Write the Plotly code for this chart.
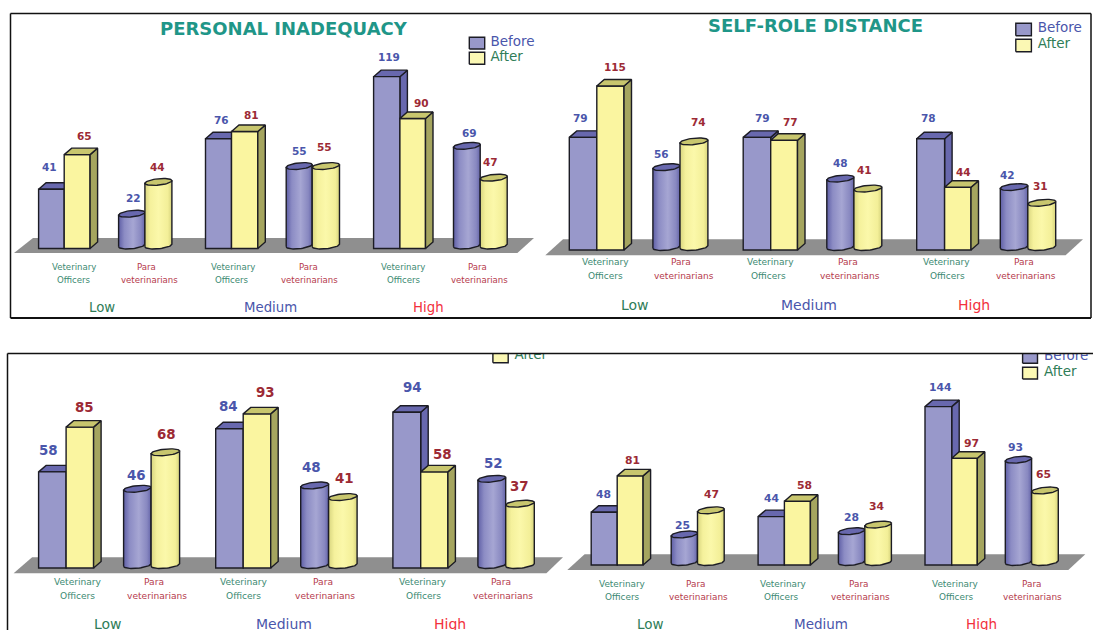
import numpy as np
import plotly.graph_objects as go

# Survey counts, ordered Low / Medium / High, each as Veterinary Officers then Para veterinarians
personal_before = [41, 22, 76, 55, 119, 69]
personal_after = [65, 44, 81, 55, 90, 47]
self_role_before = [79, 56, 79, 48, 78, 42]
self_role_after = [115, 74, 77, 41, 44, 31]
third_before = [58, 46, 84, 48, 94, 52]
third_after = [85, 68, 93, 41, 58, 37]
fourth_before = [48, 25, 44, 28, 144, 93]
fourth_after = [81, 47, 58, 34, 97, 65]

levels = ["Low", "Medium", "High"]
roles = [("Veterinary", "Officers"), ("Para", "veterinarians")]
series_names = ["Before", "After"]

W, H = 1093, 630
BLUE, BLUE_DARK, YELLOW = "#9898ca", "#6868ae", "#faf5a0"
YELLOW_TOP, YELLOW_SIDE = "#c8c66e", "#a5a55f"
INK = "#1c1c24"
BEFORE_TXT, AFTER_TXT = "#4a56ab", "#2f7d58"
VALUE_BLUE, VALUE_RED = "#4a56ab", "#9c2a35"
VET_TXT, PARA_TXT = "#3c8a72", "#b53a4c"
GROUP_TXT = ["#2f7d58", "#4a56ab", "#f2303c"]
FONT = "DejaVu Sans, Verdana, sans-serif"
BLUE_GRAD = [[0, "#5f5fa6"], [0.22, "#8c8cc4"], [0.55, "#a6a6d3"], [0.85, "#8888c0"], [1, "#6464a9"]]
YELLOW_GRAD = [[0, "#d8d57f"], [0.2, "#f5f19c"], [0.5, "#fbf8aa"], [0.85, "#f3ef98"], [1, "#d5d27c"]]
DX, DY = 7.5, 6.5  # oblique depth of the box bars, in pixels
CYL_GAP, CYL_RY, CYL_TILT = 3.0, 3.2, 1.3

# Page-pixel layout of every panel
panels = [
    dict(before=personal_before, after=personal_after, rect=(11, 540, 14, 318), base=248.5, k=1.444,
         edges=[(38.6, 64.2, 90.1), (118.6, 144.9, 171.9), (205.5, 231.5, 257.8),
                (286.2, 312.2, 339.5), (373.6, 399.9, 425.5), (453.5, 480.2, 507.2)],
         floor=[(14, 517.4, 253), (33, 534, 238)],
         title=("PERSONAL INADEQUACY", 284, 28, 18),
         value_xy=[(49.8, 167), (84, 136), (133, 198), (157.5, 167), (221, 120), (251.5, 115),
                   (299, 151), (324.4, 147), (388.6, 57), (421, 103), (469, 133), (490, 162)],
         cat_x=[(74, 74), (146.6, 149.8), (232.9, 231.5), (308, 309.7), (402.7, 403.7), (477.4, 479.1)],
         cat_y=(267, 280), cat_size=8.6,
         group=[(102.4, 307.7), (270.4, 307.7), (428.6, 307.7)], group_size=13.3,
         legend=[(469.3, 484.7, 37.3, 49, 490.4, 42.3), (469.3, 484.7, 52.3, 64.3, 490.4, 57.7)], vsize=10.5),
    dict(before=self_role_before, after=self_role_after, rect=(540, 1091, 14, 318), base=250, k=1.426,
         edges=[(569.3, 596.8, 624), (652.9, 680, 707.9), (743.2, 770.7, 797.5),
                (826.8, 853.9, 881.8), (916.7, 944.6, 971), (1000.3, 1027.8, 1055.7)],
         floor=[(545.3, 1065.6, 255.3), (563, 1083, 239.3)],
         title=("SELF-ROLE DISTANCE", 815.9, 25.7, 18),
         value_xy=[(580.2, 118), (614.8, 66.7), (661.7, 154), (698.7, 122.3), (762.9, 117.7), (790.8, 122.3),
                   (840.2, 163.3), (864.9, 170.3), (928, 117.7), (963.3, 171.7), (1007.7, 175), (1040.9, 186)],
         cat_x=[(605.3, 605.3), (680.7, 683.9), (770.3, 768.9), (848.3, 850), (946.7, 947.8), (1024.3, 1026.4)],
         cat_y=(262.3, 276), cat_size=9,
         group=[(634.9, 304.7), (809.1, 304.7), (973.9, 304.7)], group_size=14,
         legend=[(1015.8, 1031.4, 23.3, 35.7, 1037.7, 28.7), (1015.8, 1031.4, 39.3, 51.7, 1037.7, 44.7)], vsize=10.5),
    dict(before=third_before, after=third_after, rect=(8, 565, 354, 630), base=568, k=1.657,
         edges=[(38.6, 66.1, 93.6), (123.6, 151.1, 179.6), (215.7, 243.2, 270.7),
                (300.7, 328.6, 357.1), (392.9, 420.7, 447.9), (477.9, 505.7, 534.3)],
         floor=[(13.6, 546.4, 573.3), (32.1, 563, 557.3)],
         title=None,
         value_xy=[(48.6, 450.3), (84.6, 407), (136, 475), (166.8, 434.7), (228.6, 406), (265.7, 392.3),
                   (311.8, 467.3), (344.6, 478.7), (412.1, 387.3), (442.9, 454.3), (493.9, 463), (519.6, 486.7)],
         cat_x=[(77.9, 77.9), (153.9, 157.1), (244.3, 243.2), (322.9, 325), (422.9, 423.9), (501.4, 503.2)],
         cat_y=(582, 596), cat_size=9.1,
         group=[(107.5, 623.5), (283.9, 623.5), (450, 623.5)], group_size=14,
         legend=[None, (492.9, 508.2, 350.7, 362.7, 514.6, 356)], vsize=13.4),
    dict(before=fourth_before, after=fourth_after, rect=(565, 1093, 354, 630), base=565, k=1.1,
         edges=[(591.2, 617.2, 643.1), (671.2, 697.5, 724.2), (758.1, 784.4, 810.4),
                (838.4, 864.8, 891.4), (925, 951.7, 977.3), (1005.3, 1031.6, 1058.3)],
         floor=[(567.3, 1068.3, 570), (584.6, 1085.3, 554.3)],
         title=None,
         value_xy=[(603, 494), (632.1, 460), (682.3, 525), (711.4, 494), (771.6, 498.7), (804.9, 485),
                   (851.9, 517.3), (877.2, 506.7), (940.6, 387), (971.4, 443.3), (1015.7, 447), (1043.1, 474.7)],
         cat_x=[(622, 622), (695.8, 698.5), (783, 781.6), (858.9, 860.6), (955.1, 956.2), (1031, 1032.7)],
         cat_y=(583.7, 597), cat_size=8.9,
         group=[(650.8, 623.5), (821.1, 623.5), (981.4, 623.5)], group_size=13.5,
         legend=[(1022.6, 1037.5, 351, 363.3, 1044.1, 356.7), (1022.6, 1037.5, 367.3, 379, 1044.1, 372.3)], vsize=10.8),
]


def polygon(x, y, xa, ya, z, color=None, gradient=None, line=1.4):
    """Closed filled outline on one panel's axes."""
    trace = dict(x=list(x) + [x[0]], y=list(y) + [y[0]], mode="lines", fill="toself",
                 xaxis=xa, yaxis=ya, zorder=z, hoverinfo="skip", showlegend=False,
                 line=dict(color=INK, width=line) if line else dict(width=0, color="rgba(0,0,0,0)"))
    if gradient:
        trace["fillgradient"] = dict(type="horizontal", colorscale=gradient)
    else:
        trace["fillcolor"] = color
    return go.Scatter(**trace)


fig = go.Figure()
layout_axes = {}
annotations = []


def note(text, x, y, xa, ya, size, color, bold=False):
    annotations.append(dict(text=f"<b>{text}</b>" if bold else text, x=x, y=y, xref=xa, yref=ya,
                            showarrow=False, xanchor="center", yanchor="middle",
                            font=dict(family=FONT, size=size, color=color)))


for n, p in enumerate(panels, start=1):
    xa, ya = f"x{n}", f"y{n}"
    left, right, top, bottom = p["rect"]
    base, k = p["base"], p["k"]
    to_val = lambda py, base=base, k=k: (base - py) / k  # page y -> data value
    layout_axes[f"xaxis{n}"] = dict(domain=[left / W, right / W], range=[left, right], visible=False,
                                    fixedrange=True, anchor=ya)
    layout_axes[f"yaxis{n}"] = dict(domain=[1 - bottom / H, 1 - top / H], range=[to_val(bottom), to_val(top)],
                                    visible=False, fixedrange=True, anchor=xa)

    # Grey floor plate under the bars
    (fl, fr, fy), (bl, br, by) = p["floor"]
    fig.add_trace(polygon([fl, fr, br, bl], [to_val(fy), to_val(fy), to_val(by), to_val(by)], xa, ya, 0,
                          color="#8f8f8f", line=0))

    dy = DY / k
    gap = CYL_GAP / k
    for s, (values, front, grad) in enumerate(((p["before"], BLUE, BLUE_GRAD), (p["after"], YELLOW, YELLOW_GRAD))):
        z_back, z_front = (1, 2) if s == 0 else (3, 3)
        box_x, box_w, box_v = [], [], []
        shell = BLUE_DARK if s == 0 else YELLOW_SIDE
        lid = BLUE_DARK if s == 0 else YELLOW_TOP
        for i, v in enumerate(values):
            x1, x2 = p["edges"][i][s], p["edges"][i][s + 1]
            if i % 2 == 0:
                # Oblique box: side and lid polygons, front face added below as a real bar
                fig.add_trace(polygon([x2, x2 + DX, x2 + DX, x2], [0, dy, v + dy, v], xa, ya, z_back, color=shell))
                fig.add_trace(polygon([x1, x1 + DX, x2 + DX, x2], [v, v + dy, v + dy, v], xa, ya, z_back, color=lid))
                box_x.append((x1 + x2) / 2)
                box_w.append(x2 - x1)
                box_v.append(v)
            else:
                # Cylinder: shaded body with a curved foot, then an elliptical lid
                cx, rx = (x1 + x2) / 2, (x2 - x1) / 2
                t = np.linspace(np.pi, 2 * np.pi, 30)
                ex = cx + rx * np.cos(t)
                tilt = CYL_TILT * np.cos(t) / k
                foot = gap + (CYL_RY * np.sin(t)) / k + tilt
                head = v + gap + tilt
                fig.add_trace(polygon(list(ex) + list(ex[::-1]), list(foot) + list(head[::-1]), xa, ya, z_front,
                                      gradient=grad))
                t = np.linspace(0, 2 * np.pi, 50)
                fig.add_trace(polygon(list(cx + rx * np.cos(t)),
                                      list(v + gap + (CYL_RY * np.sin(t) + CYL_TILT * np.cos(t)) / k),
                                      xa, ya, z_front, color=lid))
        fig.add_trace(go.Bar(x=box_x, y=box_v, width=box_w, base=0, xaxis=xa, yaxis=ya, zorder=z_front,
                             marker=dict(color=front, line=dict(color=INK, width=1.4)),
                             hoverinfo="skip", showlegend=False))

    # Value labels above each bar
    for i in range(6):
        for s, values in enumerate((p["before"], p["after"])):
            px, py = p["value_xy"][2 * i + s]
            note(str(values[i]), px, to_val(py), xa, ya, p["vsize"], VALUE_BLUE if s == 0 else VALUE_RED, bold=True)

    # Two-line role captions and the level names beneath them
    for i in range(6):
        role = roles[i % 2]
        color = VET_TXT if i % 2 == 0 else PARA_TXT
        for line_no in (0, 1):
            note(role[line_no], p["cat_x"][i][line_no], to_val(p["cat_y"][line_no]), xa, ya, p["cat_size"], color)
    for g, (gx, gy) in enumerate(p["group"]):
        note(levels[g], gx, to_val(gy), xa, ya, p["group_size"], GROUP_TXT[g])

    if p["title"]:
        text, tx, ty, size = p["title"]
        note(text, tx, to_val(ty), xa, ya, size, "#1f9688", bold=True)

    # Key entries stay on the panel axes so that the frame edge clips them
    for entry, name, fill, color in zip(p["legend"], series_names, ("#9898ca", "#fbf8b4"), (BEFORE_TXT, AFTER_TXT)):
        if entry is None:
            continue
        sl, sr, st, sb, tx, ty = entry
        fig.add_trace(polygon([sl, sr, sr, sl], [to_val(sb), to_val(sb), to_val(st), to_val(st)], xa, ya, 4,
                              color=fill))
        fig.add_trace(go.Scatter(x=[tx], y=[to_val(ty)], text=[name], mode="text", textposition="middle right",
                                 textfont=dict(family=FONT, size=13.5, color=color), xaxis=xa, yaxis=ya, zorder=4,
                                 hoverinfo="skip", showlegend=False))

# Black frames around the two rows of panels
frame = dict(type="line", xref="paper", yref="paper", line=dict(color="#111111", width=1.5))
px = lambda v: v / W
py = lambda v: 1 - v / H
shapes = [
    dict(frame, x0=px(10.5), x1=px(1091), y0=py(13.5), y1=py(13.5)),
    dict(frame, x0=px(10.5), x1=px(1091), y0=py(318), y1=py(318), line=dict(color="#111111", width=2.2)),
    dict(frame, x0=px(10.5), x1=px(10.5), y0=py(13.5), y1=py(318)),
    dict(frame, x0=px(1091), x1=px(1091), y0=py(13.5), y1=py(318)),
    dict(frame, x0=px(7.5), x1=px(1093), y0=py(353.5), y1=py(353.5)),
    dict(frame, x0=px(7.5), x1=px(7.5), y0=py(353.5), y1=py(630)),
]

fig.update_layout(width=W, height=H, margin=dict(l=0, r=0, t=0, b=0), paper_bgcolor="white", plot_bgcolor="white",
                  barmode="overlay", showlegend=False, annotations=annotations, shapes=shapes, **layout_axes)
fig.write_html("out.html", config=dict(displayModeBar=False))
